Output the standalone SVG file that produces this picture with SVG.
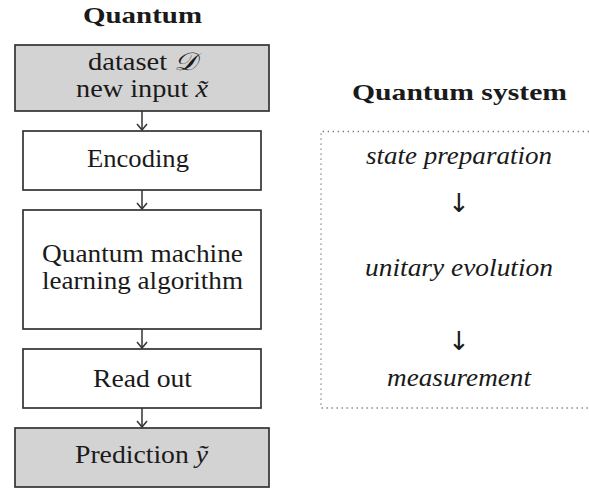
<svg xmlns="http://www.w3.org/2000/svg" width="589" height="488" viewBox="0 0 589 488">
<style>
text{font-family:"Liberation Serif","DejaVu Serif",serif;fill:#1a1a1a;}
.t{font-size:25px;}
.h{font-size:23px;font-weight:bold;}
.i{font-size:25px;font-style:italic;}
.box{stroke:#333;stroke-width:1.7;fill:#fff;}
.g{fill:#d3d3d3;}
.c{stroke:#333;stroke-width:1.5;fill:none;}
.dot{stroke:#777;stroke-width:1.3;stroke-dasharray:1.3 3.7;fill:none;}
.ar{font-family:"DejaVu Sans",sans-serif;font-size:26px;}
</style>
<defs>
<marker id="ah" viewBox="-8 -6 9 12" markerWidth="9" markerHeight="12" refX="0" refY="0" orient="auto" markerUnits="userSpaceOnUse">
<path d="M-6,-5 L0,0 L-6,5" fill="none" stroke="#333" stroke-width="1.5"/>
</marker>
</defs>
<text class="h" x="83" y="23" textLength="119" lengthAdjust="spacingAndGlyphs">Quantum</text>
<g id="input">
<rect class="box g" x="15" y="45" width="254" height="66"/>
<text class="t" x="88" y="70" textLength="109" lengthAdjust="spacingAndGlyphs">dataset <tspan font-style="italic">𝒟</tspan></text>
<text class="t" x="76" y="97" textLength="132" lengthAdjust="spacingAndGlyphs">new input <tspan font-style="italic">x̃</tspan></text>
</g>
<g id="encoding">
<rect class="box" x="23" y="131" width="238" height="59"/>
<text class="t" x="87" y="167" textLength="102" lengthAdjust="spacingAndGlyphs">Encoding</text>
</g>
<g id="qml">
<rect class="box" x="23" y="210" width="238" height="119"/>
<text class="t" x="42" y="262" textLength="201" lengthAdjust="spacingAndGlyphs">Quantum machine</text>
<text class="t" x="42" y="289" textLength="201" lengthAdjust="spacingAndGlyphs">learning algorithm</text>
</g>
<g id="readout">
<rect class="box" x="23" y="349" width="238" height="59"/>
<text class="t" x="93" y="387" textLength="99" lengthAdjust="spacingAndGlyphs">Read out</text>
</g>
<g id="prediction">
<rect class="box g" x="15" y="428" width="254" height="59"/>
<text class="t" x="75" y="463" textLength="133" lengthAdjust="spacingAndGlyphs">Prediction <tspan font-style="italic">ỹ</tspan></text>
</g>
<g id="connectors">
<path class="c" d="M142,111 V130" marker-end="url(#ah)"/>
<path class="c" d="M142,190 V209" marker-end="url(#ah)"/>
<path class="c" d="M142,329 V348" marker-end="url(#ah)"/>
<path class="c" d="M142,408 V427" marker-end="url(#ah)"/>
</g>
<g id="quantum-system">
<text class="h" x="352" y="100" textLength="215" lengthAdjust="spacingAndGlyphs">Quantum system</text>
<path class="dot" d="M589,131.5 H321 V408 H589"/>
<text class="i" x="366" y="164" textLength="186" lengthAdjust="spacingAndGlyphs">state preparation</text>
<text class="ar" x="459" y="212" text-anchor="middle">↓</text>
<text class="i" x="365" y="276" textLength="188" lengthAdjust="spacingAndGlyphs">unitary evolution</text>
<text class="ar" x="459" y="350" text-anchor="middle">↓</text>
<text class="i" x="387" y="386" textLength="144" lengthAdjust="spacingAndGlyphs">measurement</text>
</g>
</svg>
